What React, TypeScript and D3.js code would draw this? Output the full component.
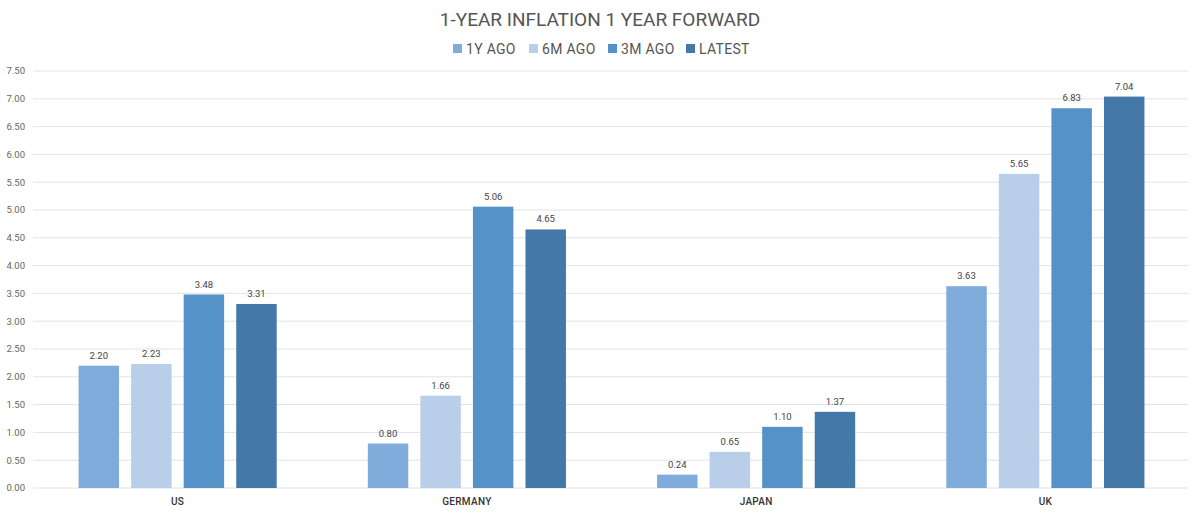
import React, { useEffect, useRef } from 'react';
import * as d3 from 'd3';

const countries = ['US', 'GERMANY', 'JAPAN', 'UK'];
const seriesNames = ['1Y AGO', '6M AGO', '3M AGO', 'LATEST'];
const seriesColors = ['#80acdb', '#b8cee9', '#5592c8', '#4478a9'];
const oneYearAgo = [2.2, 0.8, 0.24, 3.63];
const sixMonthsAgo = [2.23, 1.66, 0.65, 5.65];
const threeMonthsAgo = [3.48, 5.06, 1.1, 6.83];
const latest = [3.31, 4.65, 1.37, 7.04];
const yTicks = [0, 0.5, 1, 1.5, 2, 2.5, 3, 3.5, 4, 4.5, 5, 5.5, 6, 6.5, 7, 7.5];

const FONT = 'Roboto, "DejaVu Sans Condensed", sans-serif';

const App: React.FC = () => {
  const ref = useRef<SVGSVGElement>(null);

  useEffect(() => {
    if (!ref.current) return;
    document.body.style.margin = '0';
    const W = 1200;
    const H = 514;
    const margin = { top: 71, right: 10, bottom: 26, left: 33 };
    const width = W - margin.left - margin.right;
    const height = H - margin.top - margin.bottom;

    const svg = d3.select(ref.current);
    svg.selectAll('*').remove();
    svg.attr('width', W).attr('height', H);

    const allSeries = [oneYearAgo, sixMonthsAgo, threeMonthsAgo, latest];

    // Title
    svg.append('text')
      .attr('x', 600)
      .attr('y', 26)
      .attr('text-anchor', 'middle')
      .attr('font-family', FONT)
      .attr('font-size', 19)
      .attr('fill', '#555')
      .text('1-YEAR INFLATION 1 YEAR FORWARD');

    // Legend
    const legendX = [453, 529, 608, 686];
    const legend = svg.append('g');
    seriesNames.forEach((name, i) => {
      legend.append('rect')
        .attr('x', legendX[i])
        .attr('y', 44)
        .attr('width', 9)
        .attr('height', 9)
        .attr('fill', seriesColors[i]);
      legend.append('text')
        .attr('x', legendX[i] + 13)
        .attr('y', 54)
        .attr('font-family', FONT)
        .attr('font-size', 14)
        .attr('letter-spacing', '0.3px')
        .attr('fill', '#555')
        .text(name);
    });

    const g = svg.append('g').attr('transform', `translate(${margin.left},${margin.top})`);

    const y = d3.scaleLinear().domain([0, 7.5]).range([height, 0]);
    const x0 = d3.scaleBand().domain(countries).range([0, width]).paddingInner(0.315).paddingOuter(0.1575);
    const x1 = d3.scaleBand().domain(seriesNames).range([0, x0.bandwidth()]).paddingInner(0.23).paddingOuter(0);

    // Grid
    g.selectAll('.grid')
      .data(yTicks)
      .enter().append('line')
      .attr('x1', 0)
      .attr('x2', width - 2)
      .attr('y1', d => y(d))
      .attr('y2', d => y(d))
      .attr('stroke', '#e3e3e3')
      .attr('stroke-width', 1);

    g.selectAll('.ylabel')
      .data(yTicks)
      .enter().append('text')
      .attr('x', -8)
      .attr('y', d => y(d))
      .attr('dy', '0.35em')
      .attr('text-anchor', 'end')
      .attr('font-family', FONT)
      .attr('font-size', 9.5)
      .attr('fill', '#666')
      .text(d => d.toFixed(2));

    // Bars
    countries.forEach((c, ci) => {
      const cg = g.append('g').attr('transform', `translate(${x0(c)},0)`);
      seriesNames.forEach((s, si) => {
        const v = allSeries[si][ci];
        cg.append('rect')
          .attr('x', x1(s) || 0)
          .attr('y', y(v))
          .attr('width', x1.bandwidth())
          .attr('height', height - y(v))
          .attr('fill', seriesColors[si]);
        cg.append('text')
          .attr('x', (x1(s) || 0) + x1.bandwidth() / 2)
          .attr('y', y(v) - 7)
          .attr('text-anchor', 'middle')
          .attr('font-family', FONT)
          .attr('font-size', 9.5)
          .attr('fill', '#444')
          .text(v.toFixed(2));
      });
      g.append('text')
        .attr('x', (x0(c) || 0) + x0.bandwidth() / 2)
        .attr('y', height + 17)
        .attr('text-anchor', 'middle')
        .attr('font-family', FONT)
        .attr('font-size', 10)
        .attr('font-weight', 500)
        .attr('letter-spacing', '0.3px')
        .attr('fill', '#333')
        .text(c);
    });
  }, []);

  return (
    <div style={{ background: '#fff' }}>
      <svg ref={ref} style={{ display: 'block' }}></svg>
    </div>
  );
};

export default App;
